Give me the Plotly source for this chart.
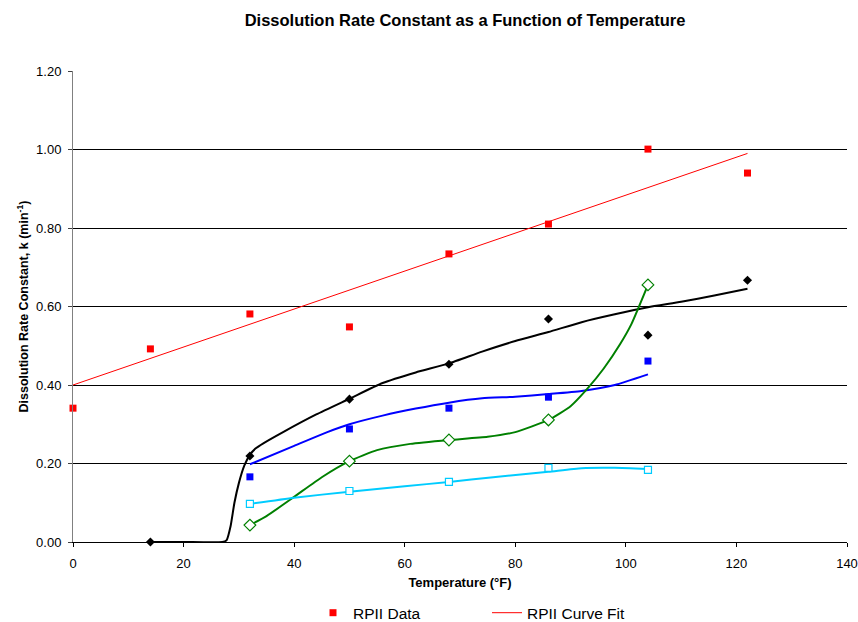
import plotly.graph_objects as go

# ---- data ----
temps = [0, 14, 32, 50, 68, 86, 104, 122]
rpii_data = [0.341, 0.492, 0.581, 0.548, 0.734, 0.810, 1.001, 0.940]
rpii_fit = [0.400, 0.468, 0.555, 0.642, 0.729, 0.816, 0.903, 0.990]

black_x = [14, 32, 50, 68, 86, 104, 122]
black_y = [0.000, 0.219, 0.364, 0.453, 0.568, 0.527, 0.667]
black_fit_x = [14, 20, 27, 27.8, 28.5, 29.2, 30, 31, 32, 33, 34.5, 38, 44, 50, 56, 62, 68, 74, 80, 86, 92, 98, 104, 110, 116, 122]
black_fit_y = [0.000, 0.000, 0.000, 0.005, 0.04, 0.10, 0.15, 0.195, 0.222, 0.238, 0.252, 0.280, 0.325, 0.365, 0.405, 0.432, 0.455, 0.485, 0.512, 0.535, 0.560, 0.580, 0.598, 0.612, 0.628, 0.645]

blue_x = [32, 50, 68, 86, 104]
blue_y = [0.166, 0.288, 0.341, 0.369, 0.461]
blue_fit_x = [32, 40, 46, 50, 56, 62, 68, 74, 80, 86, 92, 98, 104]
blue_fit_y = [0.198, 0.245, 0.280, 0.300, 0.322, 0.340, 0.355, 0.366, 0.370, 0.377, 0.385, 0.400, 0.427]

green_x = [32, 50, 68, 86, 104]
green_y = [0.043, 0.206, 0.260, 0.311, 0.655]
green_fit_x = [32, 35, 40, 45, 50, 55, 61, 68, 75, 80, 86, 90, 93, 96, 99, 101, 104]
green_fit_y = [0.043, 0.066, 0.115, 0.165, 0.206, 0.234, 0.250, 0.260, 0.268, 0.280, 0.311, 0.346, 0.390, 0.442, 0.505, 0.555, 0.655]

cyan_x = [32, 50, 68, 86, 104]
cyan_y = [0.097, 0.130, 0.153, 0.189, 0.184]
cyan_fit_x = [32, 40, 50, 60, 68, 76, 86, 92, 98, 104]
cyan_fit_y = [0.097, 0.113, 0.128, 0.142, 0.153, 0.165, 0.179, 0.188, 0.189, 0.186]

x_ticks = [0, 20, 40, 60, 80, 100, 120, 140]
y_ticks = [0.0, 0.2, 0.4, 0.6, 0.8, 1.0, 1.2]

FONT = "Liberation Sans, Arial, sans-serif"

fig = go.Figure()

def fitline(x, y, color, width):
    fig.add_trace(go.Scatter(x=x, y=y, mode="lines", line=dict(color=color, width=width, shape="spline", smoothing=0.5),
                             showlegend=False, hoverinfo="skip"))

def pts(x, y, symbol, color, size, open_=False):
    fig.add_trace(go.Scatter(x=x, y=y, mode="markers", showlegend=False, cliponaxis=False,
                             marker=dict(symbol=symbol, size=size,
                                         color="white" if open_ else color,
                                         line=dict(color=color, width=1.2 if open_ else 0))))

# other series (not in legend)
fitline(black_fit_x, black_fit_y, "#000000", 2)
fitline(blue_fit_x, blue_fit_y, "#0000FF", 2)
fitline(green_fit_x, green_fit_y, "#008000", 2)
fitline(cyan_fit_x, cyan_fit_y, "#00CCFF", 2)
pts(black_x, black_y, "diamond", "#000000", 7)
pts(blue_x, blue_y, "square", "#0000FF", 7)
pts(green_x, green_y, "diamond", "#008000", 9, open_=True)
pts(cyan_x, cyan_y, "square", "#00CCFF", 7, open_=True)

# RPII
fig.add_trace(go.Scatter(x=temps, y=rpii_data, mode="markers", name="RPII Data", cliponaxis=False,
                         marker=dict(symbol="square", size=7, color="#FF0000")))
fig.add_trace(go.Scatter(x=temps, y=rpii_fit, mode="lines", name="RPII Curve Fit",
                         line=dict(color="#FF0000", width=1)))

fig.update_layout(
    width=858, height=622,
    margin=dict(l=73, r=11, t=71, b=80, autoexpand=False),
    paper_bgcolor="white", plot_bgcolor="white",
    font=dict(family=FONT, size=13, color="black"),
    title=dict(text="<b>Dissolution Rate Constant as a Function of Temperature</b>",
               x=465 / 858, xanchor="center", y=1 - 20 / 622, yanchor="middle", yref="container",
               font=dict(family=FONT, size=16.5, color="black")),
    legend=dict(orientation="h", x=(313 - 73) / 774, xanchor="left", y=-0.151, yanchor="middle",
                font=dict(family=FONT, size=15.5, color="black"), entrywidth=129, entrywidthmode="pixels",
                bgcolor="rgba(0,0,0,0)"),
    showlegend=True,
)
fig.layout.title.xref = "container"
fig.update_xaxes(range=[0, 140], tickvals=x_ticks, ticktext=[str(v) for v in x_ticks],
                 showgrid=False, zeroline=False, showline=True, linecolor="black", linewidth=1,
                 ticks="outside", ticklen=4, tickcolor="black", ticklabelstandoff=5, automargin=False,
                 title=dict(text="<b>Temperature (°F)</b>", font=dict(family=FONT, size=13), standoff=8),
                 tickfont=dict(size=13))
fig.update_yaxes(range=[0, 1.2], tickvals=y_ticks, ticktext=[f"{v:.2f}" for v in y_ticks],
                 showgrid=True, gridcolor="#000000", gridwidth=1, zeroline=False,
                 showline=True, linecolor="#808080", linewidth=1, automargin=False,
                 ticks="outside", ticklen=4, tickcolor="#404040", ticklabelstandoff=4,
                 title=dict(text="<b>Dissolution Rate Constant, k (min<sup>-1</sup>)</b>", font=dict(family=FONT, size=12.5), standoff=4),
                 tickfont=dict(size=13))

fig.write_html("out.html", config={"displayModeBar": False},
               post_script="document.body.style.margin='0';document.body.style.padding='0';")
